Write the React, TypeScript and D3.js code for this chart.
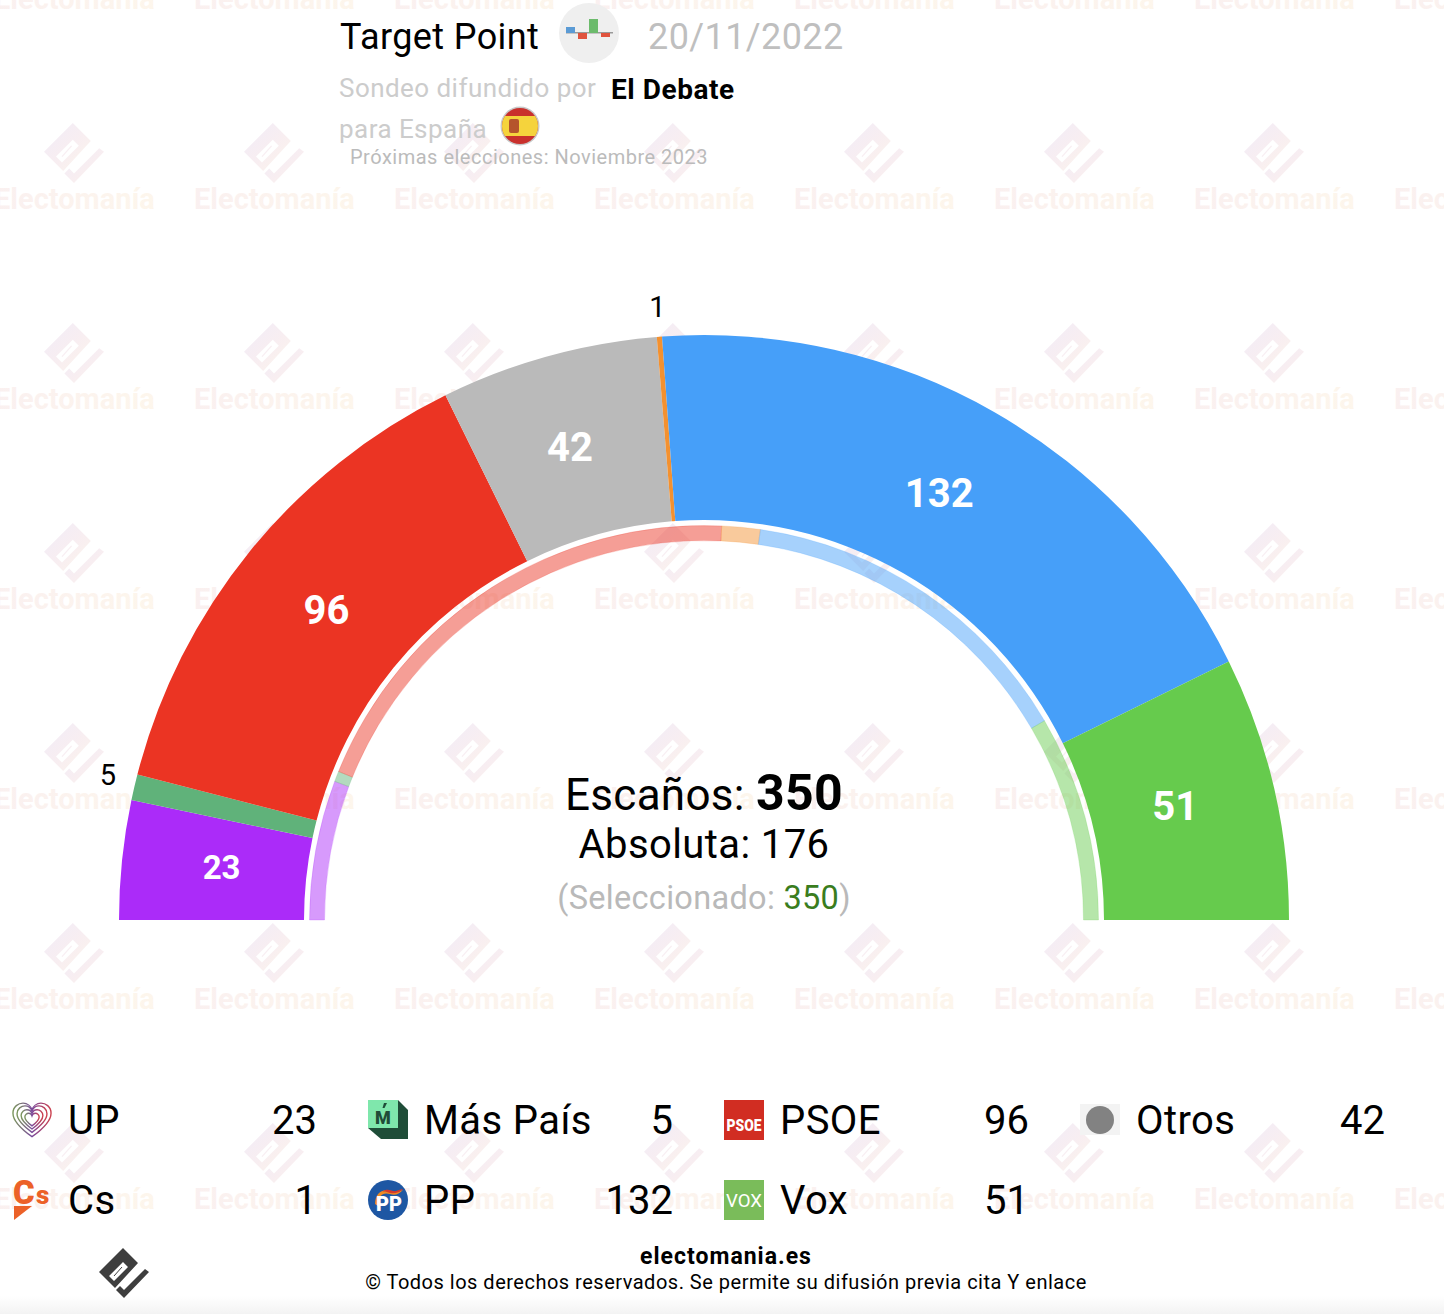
import React from "react";
import * as d3 from "d3";

const parties = ["UP", "Más País", "PSOE", "Otros", "Cs", "PP", "Vox"];
const seats = [23, 5, 96, 42, 1, 132, 51];
const colors = ["#AB2BF9", "#60B27A", "#EB3423", "#BABABA", "#F39130", "#469FF9", "#66CB4D"];
const previousParties = ["UP", "Más País", "PSOE", "Cs", "PP", "Vox"];
const previousSeats = [40, 3, 137, 11, 100, 59];
const previousColors = ["#AB2BF9", "#60B27A", "#EB3423", "#F39130", "#469FF9", "#66CB4D"];
const outsideLabel = ["Más País", "Cs"];
const legendOrder = [
  ["UP", "Más País", "PSOE", "Otros"],
  ["Cs", "PP", "Vox"],
];
const totalSeats = 350;
const majority = 176;

const W = 1444, H = 1314, CX = 704, CY = 920;
const angle = d3.scaleLinear().domain([0, totalSeats]).range([-Math.PI / 2, Math.PI / 2]);

function stack(vals: number[]) {
  let c = 0;
  return vals.map((v) => { const a = c; c += v; return [a, c]; });
}
const mainArc = d3.arc<any>().innerRadius(400).outerRadius(585);
const ringArc = d3.arc<any>().innerRadius(379.5).outerRadius(394.5);

// small per-label shifts from the centroid of each slice
const labelShift: Record<string, [number, number]> = {
  UP: [4, -2],
  "Más País": [0, -7],
  PSOE: [2, -2],
  Otros: [-4, -2],
  Cs: [0, -3],
  PP: [-8, -3],
  Vox: [-5, -3],
};

const LOGO_MAIN = "M-1,-25L14,-10L-9,15L-25,-1ZM-1,-11L-15,3L-10,8L4,-6Z";
const LOGO_L = "M21,-4L25,-1L0,25L-8,17L-4,13L0,17Z";
const LOGO_SLIT = "M-2,-6L-10,3";

function Logo({ x, y, s, fill }: any) {
  return (
    <g transform={`translate(${x},${y}) scale(${s})`}>
      <path d={LOGO_MAIN} fill={fill} fillRule="evenodd" />
      <path d={LOGO_L} fill={fill} />
      <path d={LOGO_SLIT} stroke={fill} strokeWidth={1} fill="none" />
    </g>
  );
}

function Icon({ name }: { name: string }) {
  if (name === "UP") {
    const heart = "M0,14C-14,4 -17,-2 -17,-7C-17,-13 -12,-16 -8,-16C-4,-16 -1,-13 0,-10C1,-13 4,-16 8,-16C12,-16 17,-13 17,-7C17,-2 14,4 0,14Z";
    return (
      <g transform="translate(20,20)">
        {[1.12, 0.88, 0.64, 0.42].map((s, i) => (
          <path key={i} d={heart} transform={`translate(0,${i === 0 ? 1 : 0}) scale(${s})`} fill="none" stroke="url(#upGrad)" strokeWidth={1.4 / s} />
        ))}
      </g>
    );
  }
  if (name === "Más País") {
    return (
      <g>
        <path d="M30,0L40,10V39H13L0,28V0Z" fill="#1F4D38" />
        <rect x={0} y={0} width={30} height={28} fill="#7FE7AC" />
        <text x={15} y={24} textAnchor="middle" fontFamily="Roboto" fontWeight={900} fontSize={18} fill="#1F4D38">M</text>
        <path d="M16,3L19,3L16.5,8L14.5,8Z" fill="#1F4D38" />
      </g>
    );
  }
  if (name === "PSOE") {
    return (
      <g>
        <rect width={40} height={40} fill="#D12D22" />
        <text x={20} y={31} textAnchor="middle" fontFamily="Roboto" fontWeight={900} fontSize={17} fill="#fff" textLength={35} lengthAdjust="spacingAndGlyphs">PSOE</text>
      </g>
    );
  }
  if (name === "Otros") {
    return (
      <g>
        <rect y={4} width={40} height={31} fill="#F3F3F3" />
        <circle cx={20} cy={20} r={14} fill="#828282" />
      </g>
    );
  }
  if (name === "Cs") {
    return (
      <g fill="#EC6128">
        <text x={1} y={24} fontFamily="Roboto" fontWeight={900} fontSize={33}>C</text>
        <text x={24} y={24} fontFamily="Roboto" fontWeight={900} fontSize={26}>s</text>
        <path d="M2,26H20L2,40Z" />
      </g>
    );
  }
  if (name === "PP") {
    return (
      <g>
        <circle cx={20} cy={20} r={20} fill="#1E57A3" />
        <path d="M7,24C7,13 15,8 22,11C27,14 31,11 35,10C31,14 27,16 22,14C15,12 10,15 10,26Z" fill="#EE8A22" />
        <path d="M14,12C20,7 24,12 28,11C31,10 33,9 35,9C31,13 26,14 22,13C19,12 16,11 14,12Z" fill="#D63A2B" />
        <text x={21} y={31} textAnchor="middle" fontFamily="Roboto" fontWeight={900} fontSize={21} fill="#fff" textLength={26} lengthAdjust="spacingAndGlyphs">PP</text>
      </g>
    );
  }
  return (
    <g>
      <rect width={40} height={40} fill="#7ABC5A" />
      <text x={20} y={27} textAnchor="middle" fontFamily="Roboto" fontWeight={400} fontSize={19} fill="#fff" textLength={36} lengthAdjust="spacingAndGlyphs">VOX</text>
    </g>
  );
}

export default function App() {
  const spans = stack(seats);
  const prevSpans = stack(previousSeats);
  const tilesX = d3.range(-1, 8);
  const tilesY = d3.range(-1, 7);
  return (
    <svg width={W} height={H} viewBox={`0 0 ${W} ${H}`} style={{ position: "absolute", left: 0, top: 0, display: "block", background: "#fff" }} fontFamily="Roboto">
      <defs>
        <linearGradient id="wmLogo" gradientUnits="objectBoundingBox" x1="0" y1="0" x2="1" y2="1">
          <stop offset="0" stopColor="#F1ECF8" />
          <stop offset="0.55" stopColor="#F8EEF1" />
          <stop offset="1" stopColor="#FCF5EB" />
        </linearGradient>
        <linearGradient id="wmText" gradientUnits="objectBoundingBox" x1="0" y1="0" x2="1" y2="0">
          <stop offset="0" stopColor="#FAF0F0" />
          <stop offset="1" stopColor="#FDF6EC" />
        </linearGradient>
        <linearGradient id="upGrad" gradientUnits="userSpaceOnUse" x1="-18" y1="0" x2="18" y2="0">
          <stop offset="0" stopColor="#7A9A58" />
          <stop offset="0.5" stopColor="#7A4A9C" />
          <stop offset="1" stopColor="#D0404A" />
        </linearGradient>
        <linearGradient id="footFade" x1="0" y1="0" x2="0" y2="1">
          <stop offset="0" stopColor="#fff" />
          <stop offset="1" stopColor="#F3F3F3" />
        </linearGradient>
        <clipPath id="flagClip"><circle cx={520} cy={126} r={18} /></clipPath>
      </defs>

      {tilesY.map((r) => tilesX.map((c) => (
        <g key={`${r}-${c}`}>
          <Logo x={74 + 200 * c} y={153 + 200 * r} s={1.2} fill="url(#wmLogo)" />
          <text x={-6 + 200 * c} y={209 + 200 * r} fontWeight={700} fontSize={29} fill="url(#wmText)">Electomanía</text>
        </g>
      )))}

      {seats.map((v, i) => (
        <path key={parties[i]} transform={`translate(${CX},${CY})`} fill={colors[i]}
          d={mainArc({ startAngle: angle(spans[i][0]), endAngle: angle(spans[i][1]) }) as string} />
      ))}
      {previousSeats.map((v, i) => (
        <path key={previousParties[i]} transform={`translate(${CX},${CY})`} fill={previousColors[i]} fillOpacity={0.48}
          stroke={previousColors[i]} strokeOpacity={0.2} strokeWidth={1}
          d={ringArc({ startAngle: angle(prevSpans[i][0]), endAngle: angle(prevSpans[i][1]) }) as string} />
      ))}

      {seats.map((v, i) => {
        const a = angle((spans[i][0] + spans[i][1]) / 2);
        const out = outsideLabel.includes(parties[i]);
        const r = out ? 612 : 489;
        const [sx, sy] = labelShift[parties[i]];
        const x = CX + r * Math.sin(a) + sx, y = CY - r * Math.cos(a) + sy;
        const size = out ? 29 : v < 30 ? 33 : 40;
        return (
          <text key={parties[i]} x={x} y={y + size * 0.36} textAnchor="middle"
            fontWeight={out ? 400 : 700} fontSize={size} fill={out ? "#000" : "#fff"}>
            {v}
          </text>
        );
      })}

      <text x={CX} y={810} textAnchor="middle" fontSize={44} fill="#000" letterSpacing={0.3}>
        Escaños: <tspan fontWeight={700} fontSize={50}>{totalSeats}</tspan>
      </text>
      <text x={CX} y={858} textAnchor="middle" fontSize={40} fill="#000" letterSpacing={0.4}>Absoluta: {majority}</text>
      <text x={CX} y={909} textAnchor="middle" fontSize={32.5} fill="#B9B9B9" letterSpacing={0.3}>
        (Seleccionado: <tspan fill="#3A7D1E">{totalSeats}</tspan>)
      </text>

      <text x={340} y={49} fontSize={36} fill="#000" letterSpacing={0.4}>Target Point</text>
      <circle cx={589} cy={33} r={30} fill="#EFEFEF" />
      <rect x={566} y={32} width={47} height={1.5} fill="#999" />
      <rect x={566} y={27} width={9} height={6} fill="#5B9BD5" />
      <rect x={578} y={33} width={9} height={6} fill="#E0533D" />
      <rect x={589} y={19} width={9} height={14} fill="#6CBB6C" />
      <rect x={601} y={33} width={9} height={4} fill="#E0533D" />
      <text x={648} y={49} fontSize={36} fill="#BFBFBF" letterSpacing={0.4}>20/11/2022</text>

      <text x={339} y={97} fontSize={26} fill="#CCCCCC" letterSpacing={0.45}>Sondeo difundido por</text>
      <text x={611} y={99} fontSize={28} fontWeight={700} fill="#000" letterSpacing={0.55}>El Debate</text>
      <text x={339} y={138} fontSize={26} fill="#CCCCCC" letterSpacing={0.45}>para España</text>
      <circle cx={520} cy={126} r={19.5} fill="#C8C8C8" />
      <g clipPath="url(#flagClip)">
        <rect x={500} y={106} width={40} height={40} fill="#C9302C" />
        <rect x={500} y={116} width={40} height={20} fill="#F5D33C" />
        <rect x={509} y={119} width={10} height={14} rx={2} fill="#B5542C" />
      </g>
      <text x={350} y={164} fontSize={20} fill="#BBBBBB" letterSpacing={0.5}>Próximas elecciones: Noviembre 2023</text>

      {legendOrder.map((row, r) => row.map((name, c) => {
        const i = parties.indexOf(name);
        const x = 12 + 356 * c, y = 1100 + 80 * r;
        return (
          <g key={name}>
            <g transform={`translate(${x},${y})`}><Icon name={name} /></g>
            <text x={x + 56} y={y + 34} fontSize={40} fill="#000" letterSpacing={0.4}>{name}</text>
            <text x={x + 305} y={y + 34} fontSize={40} fill="#000" textAnchor="end">{seats[i]}</text>
          </g>
        );
      }))}

      <rect x={0} y={1296} width={W} height={18} fill="url(#footFade)" />
      <Logo x={124} y={1273} s={1} fill="#3E3E3E" />
      <text x={726} y={1264} textAnchor="middle" fontSize={23} fontWeight={700} fill="#000" letterSpacing={1}>electomania.es</text>
      <text x={726} y={1289} textAnchor="middle" fontSize={20} fill="#000" letterSpacing={0.5}>© Todos los derechos reservados. Se permite su difusión previa cita Y enlace</text>
    </svg>
  );
}
